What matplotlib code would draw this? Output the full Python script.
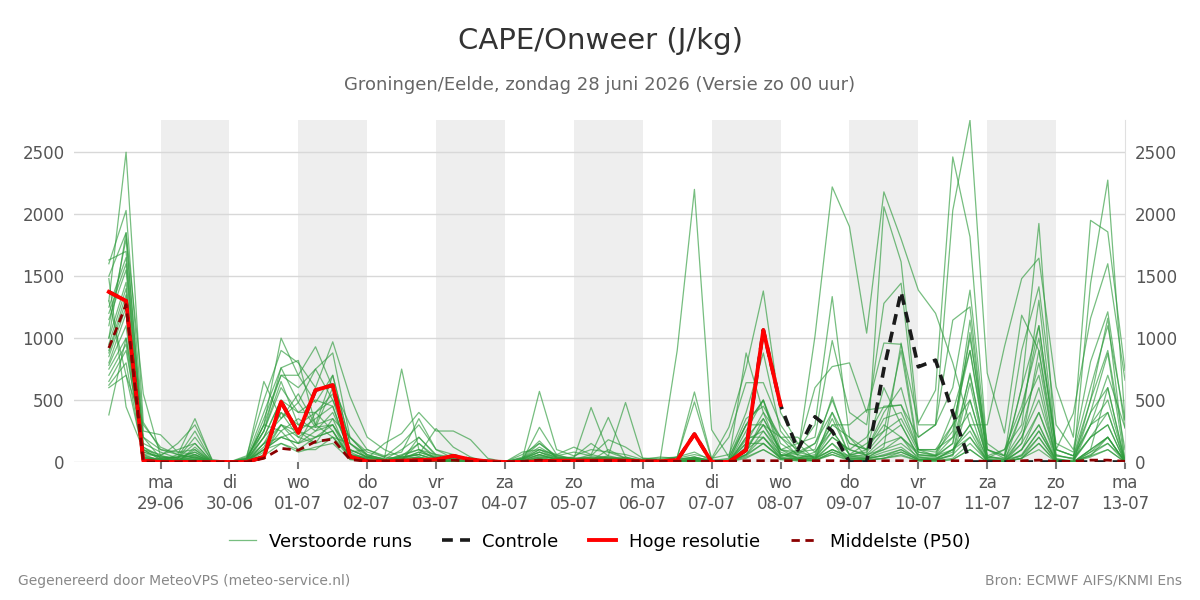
import matplotlib
matplotlib.use("Agg")
import matplotlib.pyplot as plt
from matplotlib.lines import Line2D
import numpy as np
import pandas as pd

# 6-hourly steps, 28-06 06:00 .. 13-07 00:00 (60 values)
start_time = "2026-06-28 06:00"
n_steps = 60

# CAPE (J/kg) per perturbed member
#   [28-06 06,12,18 | then 4 values per day 29-06 .. 12-07 | 13-07 00]
runs = [
    [1300, 2500, 320, 100, 60, 350, 10, 0, 20, 300, 1000, 700, 930, 600, 300, 100, 50, 80, 350, 100, 60, 20, 0, 0, 30, 120, 40, 30, 440, 80, 30, 20, 10, 40, 80, 10, 20, 880, 400, 200, 100, 300, 1335, 200, 40, 2060, 1615, 300, 300, 600, 1387, 100, 30, 600, 1925, 30, 0, 1440, 2275, 340],
    [1600, 2030, 250, 220, 80, 100, 0, 0, 50, 500, 900, 800, 600, 970, 530, 200, 100, 40, 60, 270, 120, 40, 0, 0, 10, 280, 60, 120, 60, 360, 40, 10, 10, 900, 2200, 260, 40, 300, 500, 150, 60, 1016, 2220, 1900, 1040, 2180, 1800, 1387, 1200, 800, 300, 300, 930, 1480, 1645, 607, 200, 1950, 1857, 740],
    [1500, 1850, 550, 50, 150, 300, 20, 0, 30, 400, 760, 480, 750, 880, 200, 50, 30, 750, 100, 60, 40, 20, 0, 0, 40, 170, 30, 40, 150, 50, 480, 30, 20, 40, 565, 30, 280, 760, 1380, 400, 150, 200, 980, 400, 300, 1280, 1443, 200, 300, 2030, 2758, 717, 234, 1185, 900, 100, 393, 1160, 1600, 660],
    [1100, 1800, 200, 30, 40, 250, 0, 0, 10, 350, 700, 700, 480, 700, 150, 30, 150, 230, 400, 250, 250, 180, 30, 0, 80, 100, 50, 80, 50, 180, 120, 30, 30, 40, 485, 20, 200, 640, 640, 300, 100, 600, 770, 800, 400, 960, 950, 315, 580, 2462, 1817, 100, 50, 900, 1414, 300, 100, 810, 1212, 275],
    [1630, 1700, 150, 80, 30, 200, 10, 0, 0, 250, 650, 300, 400, 550, 80, 100, 40, 150, 300, 100, 30, 10, 0, 0, 20, 570, 100, 50, 100, 80, 60, 20, 40, 30, 60, 30, 60, 400, 880, 250, 80, 100, 527, 100, 200, 450, 460, 200, 300, 1145, 1252, 30, 100, 300, 1306, 100, 50, 400, 876, 0],
    [1250, 1650, 100, 60, 100, 150, 0, 0, 20, 200, 500, 250, 350, 450, 60, 40, 20, 100, 200, 50, 20, 10, 0, 0, 60, 150, 50, 30, 30, 30, 20, 10, 10, 20, 40, 10, 30, 350, 450, 200, 200, 80, 300, 300, 420, 440, 460, 100, 100, 200, 1145, 50, 20, 200, 500, 50, 30, 300, 500, 0],
    [1200, 1600, 80, 40, 30, 80, 0, 0, 0, 150, 400, 200, 300, 350, 40, 20, 10, 60, 100, 30, 10, 0, 0, 0, 10, 60, 20, 20, 20, 40, 20, 10, 0, 10, 20, 0, 10, 300, 300, 100, 80, 40, 200, 100, 60, 100, 200, 60, 50, 150, 1045, 20, 10, 100, 300, 20, 10, 200, 300, 0],
    [1150, 1550, 50, 20, 20, 60, 0, 0, 10, 100, 300, 150, 250, 300, 30, 10, 10, 40, 60, 20, 0, 0, 0, 0, 0, 40, 10, 10, 10, 20, 10, 0, 0, 0, 10, 0, 0, 200, 200, 60, 40, 20, 100, 50, 30, 50, 100, 30, 30, 80, 717, 10, 0, 50, 200, 10, 0, 100, 200, 0],
    [1000, 1450, 30, 10, 10, 40, 0, 0, 0, 80, 250, 100, 200, 250, 20, 10, 0, 20, 40, 10, 0, 0, 0, 0, 0, 30, 10, 10, 10, 10, 10, 0, 0, 0, 10, 0, 0, 150, 150, 40, 20, 10, 80, 30, 20, 30, 80, 20, 20, 60, 637, 0, 0, 30, 150, 0, 0, 80, 150, 0],
    [950, 1400, 20, 30, 0, 120, 0, 0, 30, 650, 350, 480, 280, 300, 80, 20, 0, 10, 30, 0, 0, 10, 0, 0, 20, 100, 60, 20, 30, 10, 40, 0, 20, 0, 30, 20, 0, 80, 350, 100, 150, 20, 150, 0, 30, 120, 960, 100, 50, 300, 500, 20, 0, 150, 900, 10, 0, 100, 600, 0],
    [900, 1350, 100, 20, 40, 80, 0, 0, 40, 250, 760, 820, 300, 200, 150, 60, 20, 30, 80, 30, 10, 0, 0, 0, 30, 80, 20, 20, 60, 30, 10, 20, 0, 20, 40, 0, 0, 180, 250, 80, 30, 10, 400, 50, 100, 300, 200, 80, 50, 100, 300, 40, 20, 150, 400, 20, 0, 500, 1160, 10],
    [880, 1300, 60, 50, 20, 20, 0, 0, 0, 200, 500, 400, 500, 450, 60, 30, 20, 10, 200, 60, 20, 0, 0, 0, 0, 50, 20, 10, 20, 50, 20, 10, 10, 0, 20, 0, 0, 100, 300, 60, 20, 50, 300, 200, 100, 600, 300, 50, 50, 200, 400, 0, 0, 400, 700, 10, 0, 300, 400, 0],
    [850, 1250, 40, 10, 60, 30, 0, 0, 20, 300, 250, 350, 250, 400, 100, 40, 10, 20, 150, 20, 0, 0, 0, 0, 10, 40, 30, 10, 10, 100, 30, 0, 0, 10, 30, 10, 0, 250, 500, 50, 60, 30, 200, 100, 50, 150, 200, 20, 20, 50, 500, 30, 10, 100, 400, 50, 30, 200, 300, 0],
    [800, 1200, 10, 0, 20, 60, 0, 0, 0, 100, 200, 150, 400, 250, 40, 20, 0, 40, 60, 10, 10, 0, 0, 0, 20, 60, 20, 30, 20, 20, 20, 10, 0, 0, 10, 0, 0, 120, 300, 200, 50, 40, 250, 60, 40, 100, 150, 40, 30, 100, 300, 0, 0, 200, 600, 20, 0, 400, 600, 0],
    [780, 1100, 30, 20, 10, 100, 0, 0, 0, 150, 300, 200, 150, 350, 200, 60, 20, 0, 20, 0, 0, 0, 0, 0, 0, 20, 10, 10, 10, 10, 10, 0, 0, 0, 20, 0, 0, 60, 200, 40, 100, 30, 100, 30, 20, 60, 100, 10, 10, 60, 200, 0, 0, 100, 300, 0, 0, 100, 200, 0],
    [750, 1000, 80, 40, 20, 30, 0, 0, 20, 150, 200, 250, 200, 300, 100, 40, 10, 20, 80, 40, 30, 0, 0, 0, 20, 80, 40, 20, 20, 30, 20, 10, 10, 0, 20, 10, 0, 100, 200, 30, 30, 30, 150, 40, 60, 200, 300, 40, 20, 100, 250, 0, 20, 50, 250, 20, 10, 50, 200, 0],
    [700, 950, 20, 10, 10, 20, 0, 0, 10, 100, 150, 100, 100, 200, 30, 10, 0, 10, 30, 10, 0, 0, 0, 0, 0, 10, 0, 0, 0, 0, 0, 0, 0, 0, 10, 0, 0, 50, 150, 30, 20, 20, 60, 20, 30, 50, 80, 20, 10, 30, 150, 10, 0, 30, 200, 0, 0, 60, 150, 20],
    [650, 900, 120, 30, 40, 50, 0, 0, 10, 120, 400, 300, 280, 600, 50, 30, 10, 50, 100, 20, 20, 0, 0, 0, 10, 60, 20, 20, 30, 20, 20, 10, 10, 10, 20, 0, 10, 150, 400, 60, 30, 60, 350, 60, 80, 250, 900, 60, 40, 150, 700, 40, 30, 250, 800, 60, 20, 200, 400, 0],
    [620, 800, 40, 20, 20, 40, 0, 0, 0, 60, 300, 250, 150, 200, 60, 20, 0, 0, 20, 0, 0, 0, 0, 0, 0, 20, 0, 0, 0, 0, 0, 0, 0, 0, 0, 0, 0, 30, 100, 20, 10, 10, 80, 20, 10, 30, 60, 10, 0, 20, 100, 0, 0, 30, 150, 0, 0, 50, 100, 0],
    [600, 700, 300, 120, 60, 40, 0, 0, 20, 200, 350, 550, 300, 700, 150, 50, 20, 30, 40, 10, 10, 0, 0, 0, 30, 100, 30, 10, 20, 10, 10, 10, 10, 10, 20, 0, 0, 60, 250, 50, 80, 150, 400, 150, 100, 350, 400, 100, 80, 250, 1000, 150, 50, 600, 1100, 100, 50, 300, 700, 275],
    [380, 1000, 200, 100, 80, 60, 0, 0, 30, 250, 600, 400, 400, 500, 200, 80, 40, 30, 60, 20, 10, 0, 0, 0, 20, 80, 30, 20, 40, 30, 20, 10, 20, 20, 30, 10, 0, 200, 350, 100, 30, 80, 250, 60, 150, 250, 350, 80, 60, 400, 900, 50, 100, 450, 1000, 150, 80, 600, 1100, 340],
    [1480, 445, 100, 20, 10, 20, 0, 0, 0, 100, 200, 150, 200, 250, 40, 20, 0, 20, 40, 10, 0, 0, 0, 0, 0, 30, 10, 10, 10, 10, 10, 0, 0, 0, 20, 0, 0, 60, 150, 30, 20, 30, 100, 40, 30, 80, 120, 20, 20, 100, 200, 20, 0, 60, 250, 10, 0, 80, 200, 0],
    [1300, 700, 60, 10, 10, 10, 0, 0, 10, 50, 150, 80, 120, 150, 20, 10, 0, 10, 20, 0, 0, 0, 0, 0, 0, 10, 0, 0, 0, 0, 0, 0, 0, 0, 0, 0, 0, 40, 100, 20, 10, 10, 60, 10, 10, 30, 50, 10, 10, 20, 100, 0, 0, 30, 100, 0, 0, 40, 100, 0],
    [1000, 1850, 120, 50, 30, 150, 0, 0, 20, 300, 700, 600, 750, 500, 100, 40, 20, 50, 150, 40, 20, 0, 0, 0, 30, 150, 40, 30, 40, 40, 30, 10, 20, 20, 40, 10, 10, 300, 500, 100, 60, 150, 500, 150, 100, 400, 600, 100, 100, 300, 900, 100, 50, 400, 1100, 100, 50, 500, 900, 100],
]

controle = [1373, 1300, 10, 0, 0, 0, 0, 0, 0, 40, 486, 234, 580, 620, 43, 5, 5, 10, 15, 20, 50, 20, 5, 0, 0, 5, 10, 10, 10, 10, 10, 5, 5, 15, 225, 0, 0, 97, 1065, 460, 97, 365, 250, 0, 0, 750, 1373, 768, 822, 400, 0, 0, 0, 0, 0, 0, 0, 0, 0, 0]

# hoge resolutie runs until 08-07 00:00 (40 values)
hoge_resolutie = [1373, 1300, 10, 0, 0, 0, 0, 0, 0, 40, 486, 234, 580, 620, 43, 5, 5, 10, 15, 20, 50, 20, 5, 0, 0, 5, 10, 10, 10, 10, 10, 5, 5, 15, 225, 0, 0, 97, 1065, 460]

p50 = [920, 1270, 0, 0, 0, 5, 0, 0, 0, 30, 110, 95, 165, 185, 20, 5, 5, 10, 10, 10, 15, 5, 0, 0, 5, 15, 5, 5, 10, 10, 10, 5, 5, 5, 5, 5, 5, 10, 10, 10, 10, 10, 10, 5, 5, 10, 10, 5, 5, 10, 10, 5, 5, 10, 15, 5, 5, 15, 15, 5]

day_names = ["ma", "di", "wo", "do", "vr", "za", "zo"]

times = pd.date_range(start_time, periods=n_steps, freq="6h")
days = pd.date_range("2026-06-29", "2026-07-13", freq="D")

fig = plt.figure(figsize=(12, 6), dpi=100)
ax = fig.add_axes([0.062, 0.23, 0.8755, 0.57])

# alternating day shading
for k in range(0, len(days) - 1, 2):
    ax.axvspan(days[k], days[k + 1], color="#eeeeee", lw=0, zorder=0)

ax.grid(axis="y", color="#d8d8d8", lw=1, zorder=1)
ax.set_axisbelow(True)

for r in runs:
    ax.plot(times, r, color="#2e9b3c", lw=0.9, alpha=0.65, zorder=2)

ax.plot(times, controle, color="#1a1a1a", lw=2.6, ls=(0, (3, 2)), zorder=3)
ax.plot(times[:len(hoge_resolutie)], hoge_resolutie, color="#ff0000", lw=2.8, zorder=4)
ax.plot(times, p50, color="#8b0000", lw=2, ls=(0, (3, 2)), zorder=5)

ax.set_xlim(times[0] - pd.Timedelta(hours=12), days[-1])
ax.set_ylim(0, 2760)
ax.set_yticks([0, 500, 1000, 1500, 2000, 2500])
ax.set_xticks(days)
ax.set_xticklabels([f"{day_names[d.weekday()]}\n{d.strftime('%d-%m')}" for d in days])

for s in ["top", "left", "bottom"]:
    ax.spines[s].set_visible(False)
ax.spines["right"].set_color("#e0e0e0")

ax.tick_params(axis="y", length=0, labelsize=12, labelcolor="#555555",
               labelleft=True, labelright=True, pad=7)
ax.tick_params(axis="x", length=5, width=1.5, color="#777777", labelsize=12,
               labelcolor="#555555", pad=4)

fig.text(0.5, 0.931, "CAPE/Onweer (J/kg)", ha="center", va="center",
         fontsize=21, color="#333333")
fig.text(0.5, 0.859, "Groningen/Eelde, zondag 28 juni 2026 (Versie zo 00 uur)",
         ha="center", va="center", fontsize=13, color="#666666")

handles = [
    Line2D([], [], color="#2e9b3c", lw=0.9, alpha=0.65),
    Line2D([], [], color="#1a1a1a", lw=2.6, ls=(0, (3, 2))),
    Line2D([], [], color="#ff0000", lw=2.8),
    Line2D([], [], color="#8b0000", lw=2, ls=(0, (3, 2))),
]
labels = ["Verstoorde runs", "Controle", "Hoge resolutie", "Middelste (P50)"]
fig.legend(handles, labels, loc="center", bbox_to_anchor=(0.5, 0.097), ncol=4,
           frameon=False, fontsize=13, handlelength=1.5, handletextpad=0.7,
           columnspacing=1.7)

fig.text(0.015, 0.032, "Gegenereerd door MeteoVPS (meteo-service.nl)",
         ha="left", va="center", fontsize=10, color="#888888")
fig.text(0.985, 0.032, "Bron: ECMWF AIFS/KNMI Ens",
         ha="right", va="center", fontsize=10, color="#888888")

fig.savefig("out.png", dpi=100)
